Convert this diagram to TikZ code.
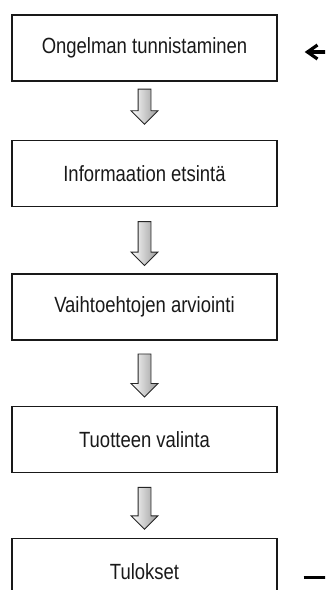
\documentclass[tikz,border=0pt]{standalone}
\usepackage{fontspec}
\setmainfont{Liberation Sans}
\usetikzlibrary{positioning,shapes.arrows,arrows.meta}
\newcommand{\narrowtext}[1]{\scalebox{0.84}[1]{#1}}

\begin{document}
\begin{tikzpicture}[
			x=1pt, y=-1pt,
			stepbox/.style={draw=black!90, line width=1.4pt, minimum width=265pt, minimum height=66pt, inner sep=0pt, text=black!90, font=\fontsize{22}{26}\selectfont},
			blockarrow/.style={single arrow, draw=black!85, line width=0.9pt, rotate=-90, anchor=tail, inner sep=6pt, single arrow head extend=7pt, single arrow head indent=0pt, left color=white, right color=black!40},
			feedback/.style={line width=3.2pt, -{Straight Barb[length=10pt,width=14pt]}}
		]
		\useasboundingbox (0,0) rectangle (325,590);
		\clip (0,0) rectangle (325,590);
		\node[stepbox] (b1) at (144.5,48) {\narrowtext{Ongelman tunnistaminen}};
		\node[stepbox, below=58pt of b1] (b2) {\narrowtext{Informaation etsintä}};
		\node[stepbox, below=66pt of b2] (b3) {\narrowtext{Vaihtoehtojen arviointi}};
		\node[stepbox, below=65pt of b3] (b4) {\narrowtext{Tuotteen valinta}};
		\node[stepbox, below=65pt of b4] (b5) {\narrowtext{Tulokset}};
		% block arrows between the steps
		\node[blockarrow, minimum height=35pt] (a1) at ([yshift=-7pt]b1.south) {};
		\node[blockarrow, minimum height=44pt] (a2) at ([yshift=-14pt]b2.south) {};
		\node[blockarrow, minimum height=43pt] (a3) at ([yshift=-13pt]b3.south) {};
		\node[blockarrow, minimum height=42pt] (a4) at ([yshift=-14pt]b4.south) {};
		% feedback from the result back to the start
		\coordinate (fbout) at ([xshift=26pt,yshift=-6pt]b5.east);
		\coordinate (fbin) at ([xshift=27pt,yshift=-4pt]b1.east);
		\draw[feedback] (fbout) -- ++(45,0) |- (fbin);
	\end{tikzpicture}
\end{document}
